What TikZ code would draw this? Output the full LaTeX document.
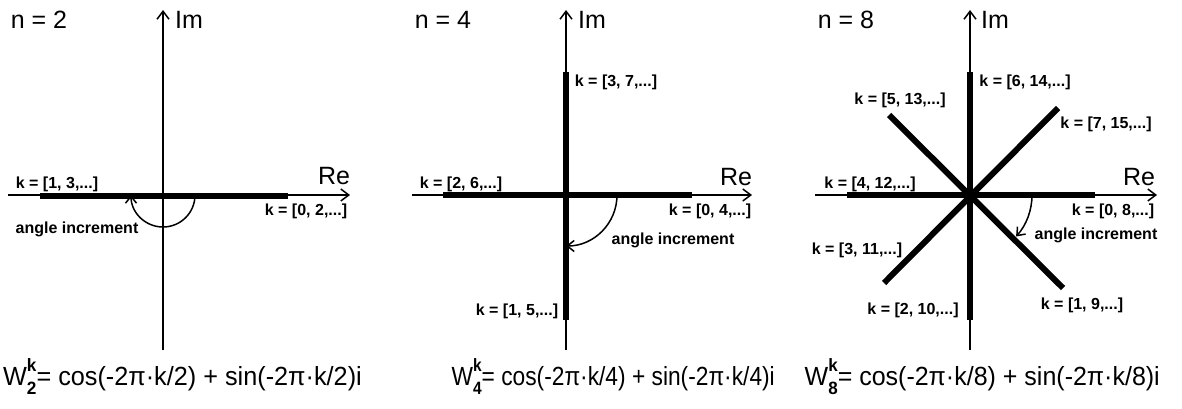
\documentclass[tikz,border=0pt]{standalone}
\usepackage{fontspec}
\setmainfont{Liberation Sans}
\usetikzlibrary{arrows.meta}
\newcommand{\bigfnt}{\fontsize{25}{28}\selectfont}
\newcommand{\klabfnt}{\fontsize{16}{18}\selectfont\bfseries}
\newcommand{\idxfnt}{\fontsize{17}{17}\selectfont\bfseries}
\newcommand{\Wnk}[1]{W\rlap{\raisebox{13pt}{\idxfnt k}}\raisebox{-9pt}{\idxfnt #1}= cos(-2π·k/#1) + sin(-2π·k/#1)i}
\begin{document}
\begin{tikzpicture}[x=1pt,y=1pt,
  axis/.style={line width=1.5pt,-{Straight Barb[length=8pt,width=12pt]}},
  rootline/.style={line width=6pt},
  incr/.style={line width=1.5pt,-{Straight Barb[length=7pt,width=11pt]}},
  klab/.style={font=\klabfnt,inner sep=0pt},
  big/.style={font=\bigfnt,inner sep=0pt},
  formula/.style={font=\bigfnt,inner sep=0pt,anchor=base east}]
\useasboundingbox (0,0) rectangle (1182,408);
% ---------------- panel n = 2
\coordinate (o1) at (163,213);
\coordinate (im1b) at (163,58);  \coordinate (im1t) at (163,398);
\coordinate (re1l) at (8,213);   \coordinate (re1r) at (350,213);
\coordinate (r1a) at (40,212);   \coordinate (r1b) at (288,212);
\draw[rootline] (r1a) -- (r1b);
\draw[axis] (im1b) -- (im1t);
\draw[axis] (re1l) -- (re1r);
\coordinate (a1) at (195,213);
\draw[incr] (a1) arc[start angle=0,end angle=-180,radius=32];
\node[big] (n2) at (39,388) {n = 2};
\node[big] (Im1) at (189,388) {Im};
\node[big] (Re1) at (334,231.5) {Re};
\node[klab] (k13) at (57,224) {k = [1, 3,...]};
\node[klab] (k02) at (306,197) {k = [0, 2,...]};
\node[klab] (ang1) at (77,179) {angle increment};
\node[formula] (f1) at (362,23) {\scalebox{1.01}[1.05]{\Wnk{2}}};
% ---------------- panel n = 4
\coordinate (o2) at (566,213);
\coordinate (im2b) at (566,58);  \coordinate (im2t) at (566,398);
\coordinate (re2l) at (412,213); \coordinate (re2r) at (752,213);
\coordinate (h2a) at (443,213);  \coordinate (h2b) at (692,213);
\coordinate (v2a) at (566,88);   \coordinate (v2b) at (566,336);
\draw[axis] (im2b) -- (im2t);
\draw[axis] (re2l) -- (re2r);
\draw[rootline] (h2a) -- (h2b);
\draw[rootline] (v2a) -- (v2b);
\coordinate (a2) at (617,213);
\draw[incr] (a2) arc[start angle=0,end angle=-90,radius=51];
\node[big] (n4) at (443,388) {n = 4};
\node[big] (Im2) at (592,388) {Im};
\node[big] (Re2) at (736,231) {Re};
\node[klab] (k37) at (616,326) {k = [3, 7,...]};
\node[klab] (k26) at (461,224) {k = [2, 6,...]};
\node[klab] (k04) at (710,197) {k = [0, 4,...]};
\node[klab] (ang2) at (673,168) {angle increment};
\node[klab] (k15) at (517,97) {k = [1, 5,...]};
\node[formula] (f2) at (775,23) {\scalebox{0.91}[1.05]{\Wnk{4}}};
% ---------------- panel n = 8
\coordinate (o3) at (970,213);
\coordinate (im3b) at (970,58);  \coordinate (im3t) at (970,398);
\coordinate (re3l) at (815,213); \coordinate (re3r) at (1157,213);
\coordinate (h3a) at (847,213);  \coordinate (h3b) at (1095,213);
\coordinate (v3a) at (970,88);   \coordinate (v3b) at (970,336);
\coordinate (dUL) at (889,293);  \coordinate (dLR) at (1063,120);
\coordinate (dUR) at (1058,300); \coordinate (dLL) at (884,125);
\draw[axis] (im3b) -- (im3t);
\draw[axis] (re3l) -- (re3r);
\draw[rootline] (h3a) -- (h3b);
\draw[rootline] (v3a) -- (v3b);
\draw[rootline] (dUL) -- (dLR);
\draw[rootline] (dUR) -- (dLL);
\coordinate (a3) at (1032,213);
\draw[incr] (a3) arc[start angle=0,end angle=-42,radius=62];
\node[big] (n8) at (846,388) {n = 8};
\node[big] (Im3) at (995,388) {Im};
\node[big] (Re3) at (1139,231) {Re};
\node[klab] (k614) at (1025,326) {k = [6, 14,...]};
\node[klab] (k513) at (900,308) {k = [5, 13,...]};
\node[klab] (k715) at (1106,284) {k = [7, 15,...]};
\node[klab] (k412) at (870,224) {k = [4, 12,...]};
\node[klab] (k08) at (1113,197) {k = [0, 8,...]};
\node[klab] (ang3) at (1096,173) {angle increment};
\node[klab] (k311) at (857,158) {k = [3, 11,...]};
\node[klab] (k210) at (913,98) {k = [2, 10,...]};
\node[klab] (k19) at (1082,103) {k = [1, 9,...]};
\node[formula] (f3) at (1160,23) {\scalebox{1.0}[1.05]{\Wnk{8}}};
\end{tikzpicture}
\end{document}
